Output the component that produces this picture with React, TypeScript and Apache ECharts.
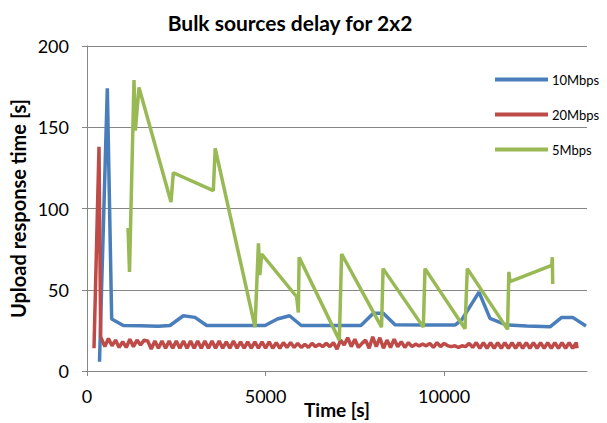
import React, { useEffect, useRef } from "react";
import * as echarts from "echarts";

const seriesNames = ["10Mbps", "20Mbps", "5Mbps"];
const xTickValues = [0, 5000, 10000];

const blueTimes = [350, 569, 691, 1017, 1500, 2000, 2324, 2697, 3024, 3351, 4000, 4984, 5330, 5670, 6000, 7000, 7670, 8017, 8297, 8624, 9500, 10304, 10491, 10976, 11284, 11751, 12311, 12964, 13291, 13599, 13972];
const blueValues = [5.7, 174, 32, 28, 27.8, 27.5, 28, 34, 33, 28, 28, 28, 32, 34, 28, 28, 28, 35.5, 35.5, 28.5, 28.3, 28.3, 31.5, 48.5, 32.4, 28.3, 27.7, 27.2, 33, 33, 27.7];

const greenTimes = [1150, 1190, 1316, 1353, 1456, 2352, 2417, 3537, 3590, 4704, 4800, 4840, 4890, 5870, 5917, 5940, 7065, 7129, 8247, 8290, 9417, 9464, 10584, 10649, 11775, 11812, 11844, 13011, 13029, 13040];
const greenValues = [88, 61, 179, 148, 174.5, 104, 122, 111, 137, 27, 78.5, 59, 72, 45.7, 36, 70, 19, 72, 27, 63, 27, 63, 26, 63, 25.6, 61, 55, 65, 70, 53.5];

const redTimes = [196, 336, 383, 500, 600, 700, 800, 900, 1000, 1100, 1200, 1300, 1400, 1500, 1600, 1700, 1800, 1900, 2000, 2100, 2200, 2300, 2400, 2500, 2600, 2700, 2800, 2900, 3000, 3100, 3200, 3300, 3400, 3500, 3600, 3700, 3800, 3900, 4000, 4100, 4200, 4300, 4400, 4500, 4600, 4700, 4800, 4900, 5000, 5100, 5200, 5300, 5400, 5500, 5600, 5700, 5800, 5900, 6000, 6100, 6200, 6300, 6400, 6500, 6600, 6700, 6800, 6900, 7000, 7100, 7200, 7300, 7400, 7500, 7600, 7700, 7800, 7900, 8000, 8100, 8200, 8300, 8400, 8500, 8600, 8700, 8800, 8900, 9000, 9100, 9200, 9300, 9400, 9500, 9600, 9700, 9800, 9900, 10000, 10100, 10200, 10300, 10400, 10500, 10600, 10700, 10800, 10900, 11000, 11100, 11200, 11300, 11400, 11500, 11600, 11700, 11800, 11900, 12000, 12100, 12200, 12300, 12400, 12500, 12600, 12700, 12800, 12900, 13000, 13100, 13200, 13300, 13400, 13500, 13600, 13700, 13720];
const redValues = [14, 138, 21, 15, 20, 15.5, 19, 14.5, 18, 14.5, 19.5, 15, 19, 16, 19, 18.5, 13.5, 18.5, 14, 18.5, 14, 18.5, 14, 18.5, 14, 18.5, 14, 18.5, 14, 18.5, 14, 18.5, 14, 18.5, 14, 18.5, 14, 18, 14, 18.5, 14, 18, 14, 18, 14, 18, 14, 18, 14, 18, 14, 17.5, 14, 17.5, 14.5, 17.5, 14.5, 17, 14.5, 16.5, 14.5, 17, 15, 16.5, 15, 17, 15, 17.5, 13.5, 19, 16, 20.5, 15, 19.5, 14.5, 17, 19, 14, 21, 15, 20.5, 14, 19, 14.5, 19.5, 15, 18, 14.5, 17.5, 15, 16.5, 15.5, 16.5, 15.5, 17, 14.5, 17.5, 15, 17, 15.5, 15, 15.5, 14.5, 15.5, 15, 17, 14.5, 17.5, 14, 17.5, 14, 17.5, 14, 17.5, 14, 17.5, 14, 17.5, 14, 17.5, 14, 17.5, 14, 17.5, 14, 17.5, 14, 17.5, 14, 17.5, 14, 17.5, 14, 17.5, 14, 17.5, 14];

const pair = (xs: number[], ys: number[]) => xs.map((x, i) => [x, ys[i]]);

const FONT = "Lato, 'Open Sans', sans-serif";
const AXIS = "#868686";

export default function App() {
  const ref = useRef<HTMLDivElement>(null);
  useEffect(() => {
    const chart = echarts.init(ref.current!, null, { renderer: "svg" });
    chart.setOption({
      animation: false,
      textStyle: { fontFamily: FONT },
      grid: { left: 87, right: 20, top: 46, bottom: 52, containLabel: false, outerBoundsMode: "none" },
      graphic: [
        {
          type: "text",
          x: 290,
          y: 22,
          style: {
            text: "Bulk sources delay for 2x2",
            font: `bold 21px ${FONT}`,
            fill: "#000",
            textAlign: "center",
            textVerticalAlign: "middle",
          },
        },
      ],
      legend: {
        orient: "vertical",
        left: 495,
        top: 73,
        padding: 0,
        itemWidth: 53,
        itemHeight: 4,
        itemGap: 22,
        icon: "rect",
        textStyle: { fontSize: 13, color: "#000", fontFamily: FONT, padding: [0, 0, 0, -1] },
        data: seriesNames,
      },
      xAxis: {
        type: "value",
        min: 0,
        max: 14000,
        name: "Time [s]",
        nameLocation: "middle",
        nameGap: 29,
        nameMoveOverlap: false,
        nameTextStyle: { fontWeight: "bold", fontSize: 19, color: "#000", fontFamily: FONT },
        axisLine: { show: true, lineStyle: { color: AXIS, width: 1 } },
        axisTick: { show: true, length: 5, lineStyle: { color: AXIS }, customValues: xTickValues },
        axisLabel: {
          fontSize: 18,
          color: "#000",
          margin: 16,
          customValues: xTickValues,
          formatter: (v: number) => String(v),
        },
        splitLine: { show: false },
      },
      yAxis: {
        type: "value",
        min: 0,
        max: 200,
        interval: 50,
        name: "Upload response time [s]",
        nameLocation: "middle",
        nameGap: 59,
        nameMoveOverlap: false,
        nameTextStyle: { fontWeight: "bold", fontSize: 20, color: "#000", fontFamily: FONT },
        axisLine: { show: true, lineStyle: { color: AXIS, width: 1 } },
        axisTick: { show: true, length: 5, lineStyle: { color: AXIS } },
        axisLabel: { fontSize: 18, color: "#000", margin: 18 },
        splitLine: { show: true, lineStyle: { color: AXIS, width: 1 } },
      },
      series: [
        {
          name: seriesNames[0],
          type: "line",
          data: pair(blueTimes, blueValues),
          showSymbol: false,
          lineStyle: { width: 3.5, color: "#4A7EBB" },
          itemStyle: { color: "#4A7EBB" },
        },
        {
          name: seriesNames[1],
          type: "line",
          data: pair(redTimes, redValues),
          showSymbol: false,
          lineStyle: { width: 3.5, color: "#BE4B48" },
          itemStyle: { color: "#BE4B48" },
        },
        {
          name: seriesNames[2],
          type: "line",
          data: pair(greenTimes, greenValues),
          showSymbol: false,
          lineStyle: { width: 3.5, color: "#98B954" },
          itemStyle: { color: "#98B954" },
        },
      ],
    });
    return () => chart.dispose();
  }, []);
  return (
    <div
      ref={ref}
      style={{ position: "absolute", left: 0, top: 0, width: 607, height: 423 }}
    />
  );
}
